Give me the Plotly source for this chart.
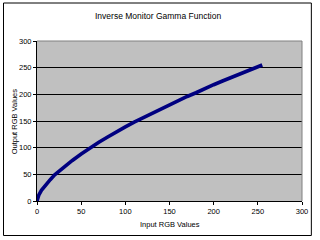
import plotly.graph_objects as go

x_vals = [0, 1, 2, 5, 10, 15, 20, 30, 40, 50, 60, 70, 80, 90, 100, 110, 120, 130,
          140, 150, 160, 170, 180, 190, 200, 210, 220, 230, 240, 250, 255]
y_vals = [0, 7, 11, 20, 31, 40, 49, 63, 76, 88, 100, 110, 120, 130, 139, 148, 156, 165,
          173, 181, 188, 196, 203, 211, 218, 225, 232, 238, 245, 252, 255]

title_text = "Inverse Monitor Gamma Function"
x_title = "Input RGB Values"
y_title = "Output RGB Values"
ticks = [0, 50, 100, 150, 200, 250, 300]
grid_vals = [50, 100, 150, 200, 250]

L, R, T, B = 37, 14, 41, 39
W, H = 320, 240
pw, ph = W - L - R, H - T - B

fig = go.Figure()
fig.add_trace(go.Scatter(x=x_vals, y=y_vals, mode="lines",
                         line=dict(color="#000080", width=3.6), showlegend=False))

font = dict(family="Liberation Sans, Arial, sans-serif", size=7.5, color="black")

fig.update_layout(
    width=W, height=H,
    margin=dict(l=L, r=R, t=T, b=B, pad=0),
    paper_bgcolor="white",
    plot_bgcolor="#C0C0C0",
    font=font,
    annotations=[
        dict(text=title_text, xref="paper", yref="paper",
             x=(160 - L) / pw, y=(H - B - 16) / ph, showarrow=False,
             font=dict(family="Liberation Sans, Arial, sans-serif", size=8.5),
             xanchor="center", yanchor="middle"),
        dict(text=x_title, xref="paper", yref="paper",
             x=0.5, y=(H - B - 224) / ph, showarrow=False,
             xanchor="center", yanchor="middle"),
        dict(text=y_title, xref="paper", yref="paper",
             x=(14 - L) / pw, y=0.5, showarrow=False, textangle=-90,
             xanchor="center", yanchor="middle"),
    ],
    shapes=[
        dict(type="rect", xref="paper", yref="paper",
             x0=(3 - L) / pw, x1=(315.5 - L) / pw,
             y0=(H - B - 235.5) / ph, y1=(H - B - 3) / ph,
             line=dict(color="black", width=1), fillcolor="rgba(0,0,0,0)",
             layer="below"),
        dict(type="path", xref="paper", yref="paper",
             path="M 0 1 L 1 1 L 1 0",
             line=dict(color="#808080", width=1), layer="above"),
    ],
)

fig.update_xaxes(range=[0, 300], tickvals=ticks, showgrid=False, zeroline=False,
                 showline=True, linecolor="black", linewidth=1,
                 ticks="outside", ticklen=3, tickcolor="black", tickfont=font)
fig.update_yaxes(range=[0, 300], tickvals=ticks, showgrid=False, zeroline=False,
                 showline=True, linecolor="black", linewidth=1,
                 ticks="outside", ticklen=3, tickcolor="black", tickfont=font,
                 minor=dict(tickvals=grid_vals, showgrid=True, gridcolor="black",
                            gridwidth=1, ticks=""))

fig.write_html("out.html")
